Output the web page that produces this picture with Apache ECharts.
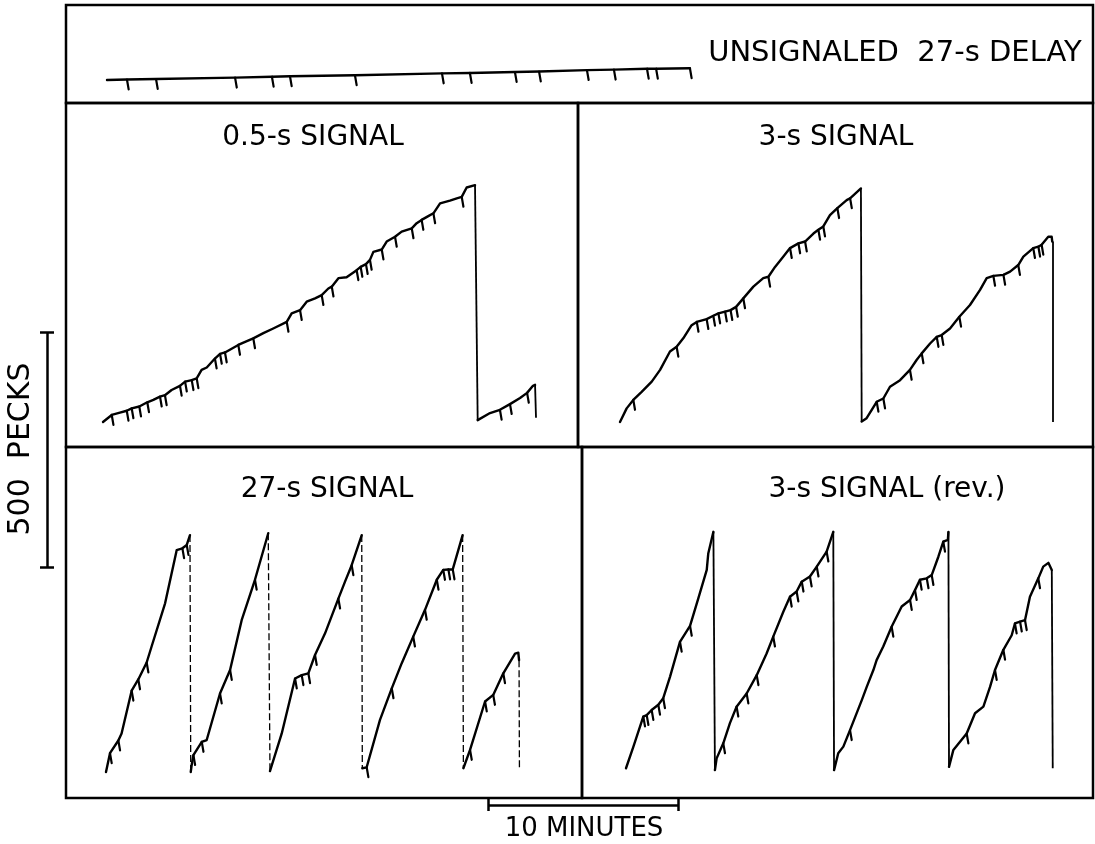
<!DOCTYPE html>
<html><head><meta charset="utf-8">
<script src="https://cdn.jsdelivr.net/npm/echarts@6/dist/echarts.min.js"></script>
<style>html,body{margin:0;padding:0;background:#fff}#c{width:1095px;height:844px}</style>
</head><body><div id="c"></div>
<script>
// ---- DATA: cumulative records; each record = list of pen runs between resets.
// point = [minutes since start of session, pecks since last reset, 1 if reinforcement pip]
const titles = ['UNSIGNALED  27-s DELAY', '0.5-s SIGNAL', '3-s SIGNAL', '27-s SIGNAL', '3-s SIGNAL (rev.)'];

const unsignaled27 = [
  [[0,0],[1.05,1,1],[2.58,2,1],[6.74,5,1],[8.68,7,1],[9.63,8,1],[13.05,10,1],[17.63,14,1],[19.1,15,1],[21.47,17,1],[22.74,18,1],[25.26,21,1],[26.68,22,1],[28.42,24,1],[28.9,24,1],[30.68,25,1]]
];

const signal05 = [
  [[0,0],[0.46,15,1],[0.89,20],[1.25,24,1],[1.51,29,1],[1.91,33,1],[2.33,42,1],[2.65,47],[3.0,54,1],[3.26,57,1],[3.61,68],[4.05,77,1],[4.32,86,1],[4.67,89,1],[4.93,93,1],[5.19,111],[5.46,116],[5.89,135,1],[6.16,145,1],[6.42,148,1],[7.12,164,1],[7.39,169],[7.91,178,1],[8.44,189],[8.96,199],[9.67,213,1],[9.93,231],[10.37,238,1],[10.72,256],[11.16,263],[11.51,270,1],[11.86,284],[12.04,288,1],[12.39,306],[12.82,308],[13.35,323,1],[13.56,330,1],[13.84,336,1],[14.05,345,1],[14.23,362],[14.67,367,1],[14.93,384],[15.37,394,1],[15.72,405],[16.25,412,1],[16.51,423],[16.77,430,1],[17.12,438],[17.39,444,1],[17.74,465],[18.26,471],[18.62,476],[18.88,479,1],[19.14,499],[19.58,504]],
  [[19.72,4],[20.37,19],[20.89,26,1],[21.42,38,1],[21.95,51],[22.32,62,1],[22.63,77],[22.74,79]],
  [[22.79,9]]
];

const signal3 = [
  [[0,0],[0.35,29],[0.70,47,1],[1.14,64],[1.67,86],[2.11,111],[2.63,150],[2.98,160,1],[3.33,178],[3.77,206],[4.04,213,1],[4.56,219,1],[4.91,226,1],[5.18,231,1],[5.53,235,1],[5.82,238,1],[6.11,245,1],[6.49,263,1],[7.02,288],[7.54,306],[7.81,309,1],[8.16,330],[8.60,352],[8.95,370,1],[9.39,380,1],[9.74,384,1],[10.18,401],[10.44,409,1],[10.70,416,1],[11.05,440],[11.44,455,1],[11.93,472],[12.11,476,1],[12.68,497]],
  [[12.72,1],[12.98,8],[13.51,43,1],[13.86,50,1],[14.21,75],[14.74,89],[15.26,111,1],[15.61,132],[15.88,146,1],[16.32,167],[16.67,181,1],[16.93,185,1],[17.37,199],[17.86,224,1],[18.42,249],[18.95,281],[19.30,306],[19.65,311,1],[20.18,313,1],[20.53,320],[20.96,334,1],[21.23,352],[21.75,370,1],[22.02,373,1],[22.19,377,1],[22.54,394],[22.72,394],[22.75,384]],
  [[22.76,0]]
];

const signal27 = [
  [[0,0],[0.21,40,1],[0.65,67,1],[0.82,82],[1.35,173,1],[1.70,197,1],[2.14,233,1],[2.40,267],[3.11,359],[3.72,472],[4.02,476,1],[4.25,483,1],[4.42,504]],
  [[4.46,0],[4.51,15],[4.60,36,1],[5.04,64,1],[5.30,68],[6.00,167,1],[6.53,217,1],[7.14,323],[7.84,409,1],[8.54,508]],
  [[8.63,2],[9.25,82],[9.95,199,1],[10.30,206,1],[10.65,210,1],[11.0,249,1],[11.53,295],[12.23,369,1],[12.58,405],[12.93,440,1],[13.46,504]],
  [[13.49,8],[13.72,10,1],[14.42,111],[15.04,178,1],[15.56,231],[16.17,288,1],[16.79,345,1],[17.41,409,1],[17.75,430,1],[18.02,431,1],[18.25,431,1],[18.77,504]],
  [[18.81,8],[19.16,47,1],[19.95,150,1],[20.38,164,1],[20.91,210,1],[21.53,252],[21.70,254],[21.74,238]],
  [[21.76,4]]
];

const signal3rev = [
  [[0,8],[0.39,54],[0.91,118,1],[1.09,121,1],[1.35,132,1],[1.70,143,1],[1.96,157,1],[2.32,203],[2.84,277,1],[3.37,311,1],[3.81,370],[4.25,430],[4.33,465],[4.60,511]],
  [[4.68,4],[4.77,29],[5.12,61,1],[5.47,104],[5.82,139,1],[6.35,167,1],[6.88,206,1],[7.40,252],[7.75,288,1],[8.28,341],[8.63,373,1],[8.98,384,1],[9.25,405,1],[9.68,416,1],[10.04,437,1],[10.56,469,1],[10.91,511]],
  [[10.95,4],[11.17,40],[11.44,54],[11.79,89,1],[12.41,153],[12.67,181],[13.02,217],[13.19,238],[13.54,267],[13.98,309,1],[14.51,352],[14.95,366,1],[15.21,387,1],[15.47,409,1],[15.83,412,1],[16.09,419,1],[16.44,458],[16.70,490,1],[16.94,494],[16.97,511]],
  [[17.0,11],[17.23,47],[17.93,82,1],[18.37,125],[18.81,139],[19.16,181],[19.42,217,1],[19.86,260,1],[20.30,291],[20.47,316,1],[20.74,320,1],[21.0,323,1],[21.26,373],[21.70,412,1],[21.96,437],[22.23,445],[22.41,430]],
  [[22.46,8]]
];

const scaleBarPecks = 500;
const scaleBarMinutes = 10;
const scaleLabels = ['500  PECKS', '10 MINUTES'];

// ---- LAYOUT (pixels) ----
const PX_PER_MIN = 19, PX_PER_PECK = 0.47;
const panels = [
  {box:[66,5,1027,98],   origin:[107,80],  title:[895,53],  font:29, data:unsignaled27, dash:false},
  {box:[66,103,512,344], origin:[103,422], title:[313,138], font:28, data:signal05,     dash:false},
  {box:[578,103,515,344],origin:[620,422], title:[836,138], font:28, data:signal3,      dash:false},
  {box:[66,447,516,351], origin:[106,772], title:[327,490], font:28, data:signal27,     dash:true},
  {box:[582,447,511,351],origin:[626,772], title:[887,490], font:28, data:signal3rev,   dash:false}
];
const INK = '#000';
const PIP_DT = 0.09, PIP_DP = 21;

const grids = [], xAxes = [], yAxes = [], series = [], graphics = [];
panels.forEach((pn, i) => {
  const [l, t, w, h] = pn.box, [ox, oy] = pn.origin;
  grids.push({left:l, top:t, width:w, height:h, show:true, borderColor:INK, borderWidth:2.5, backgroundColor:'transparent'});
  xAxes.push({type:'value', gridIndex:i, show:false, min:-(ox-l)/PX_PER_MIN, max:(l+w-ox)/PX_PER_MIN});
  yAxes.push({type:'value', gridIndex:i, show:false, min:-(t+h-oy)/PX_PER_PECK, max:(oy-t)/PX_PER_PECK});
  const runs = pn.data;
  const pips = [], resets = [];
  runs.forEach((run, r) => {
    series.push({type:'line', xAxisIndex:i, yAxisIndex:i, data:run.map(p => [p[0], p[1]]),
      symbol:'none', silent:true, animation:false, lineStyle:{color:INK, width:2.4, join:'round', cap:'round'}});
    run.forEach(p => { if (p[2]) pips.push({coords:[[p[0], p[1]], [p[0]+PIP_DT, p[1]-PIP_DP]]}); });
    if (r < runs.length - 1) {
      const a = run[run.length-1], b = runs[r+1][0];
      resets.push({coords:[[a[0], a[1]], [b[0], b[1]]]});
    }
  });
  series.push({type:'lines', coordinateSystem:'cartesian2d', xAxisIndex:i, yAxisIndex:i, data:pips,
    silent:true, animation:false, lineStyle:{color:INK, width:2.2, opacity:1, cap:'round'}});
  series.push({type:'lines', coordinateSystem:'cartesian2d', xAxisIndex:i, yAxisIndex:i, data:resets,
    silent:true, animation:false, lineStyle:{color:INK, width:pn.dash ? 1.3 : 1.8, opacity:1, type: pn.dash ? [7,3] : 'solid'}});
  graphics.push({type:'text', x:pn.title[0], y:pn.title[1], silent:true,
    style:{text:titles[i], font:pn.font + 'px "DejaVu Sans"', fill:INK, textAlign:'center', textVerticalAlign:'middle'}});
});

// overlay grid in the same units for the scale bars
const W = 1095, H = 844, oi = panels.length;
grids.push({left:0, top:0, width:W, height:H, show:false});
xAxes.push({type:'value', gridIndex:oi, show:false, min:0, max:W/PX_PER_MIN});
yAxes.push({type:'value', gridIndex:oi, show:false, min:0, max:H/PX_PER_PECK});
const toM = px => px / PX_PER_MIN, toP = py => (H - py) / PX_PER_PECK;
const pb = [toM(47), toP(567)];          // foot of the pecks bar
const mb = [toM(488), toP(805)];         // left end of the minutes bar
const capM = 7 / PX_PER_MIN, capP = 6 / PX_PER_PECK;
series.push({type:'lines', coordinateSystem:'cartesian2d', xAxisIndex:oi, yAxisIndex:oi, silent:true, animation:false,
  lineStyle:{color:INK, width:2.5, opacity:1},
  data:[
    {coords:[[pb[0], pb[1]], [pb[0], pb[1]+scaleBarPecks]]},
    {coords:[[pb[0]-capM, pb[1]], [pb[0]+capM, pb[1]]]},
    {coords:[[pb[0]-capM, pb[1]+scaleBarPecks], [pb[0]+capM, pb[1]+scaleBarPecks]]},
    {coords:[[mb[0], mb[1]], [mb[0]+scaleBarMinutes, mb[1]]]},
    {coords:[[mb[0], mb[1]-capP], [mb[0], mb[1]+capP]]},
    {coords:[[mb[0]+scaleBarMinutes, mb[1]-capP], [mb[0]+scaleBarMinutes, mb[1]+capP]]}
  ]});

graphics.push({type:'text', x:21, y:449, rotation:Math.PI/2, silent:true,
  style:{text:scaleLabels[0], font:'30px "DejaVu Sans"', fill:INK, textAlign:'center', textVerticalAlign:'middle'}});
graphics.push({type:'text', x:584, y:829, silent:true,
  style:{text:scaleLabels[1], font:'26px "DejaVu Sans"', fill:INK, textAlign:'center', textVerticalAlign:'middle'}});

const chart = echarts.init(document.getElementById('c'), null, {renderer:'canvas'});
chart.setOption({
  backgroundColor:'#fff', animation:false,
  grid:grids, xAxis:xAxes, yAxis:yAxes, series:series, graphic:graphics
});
</script></body></html>
